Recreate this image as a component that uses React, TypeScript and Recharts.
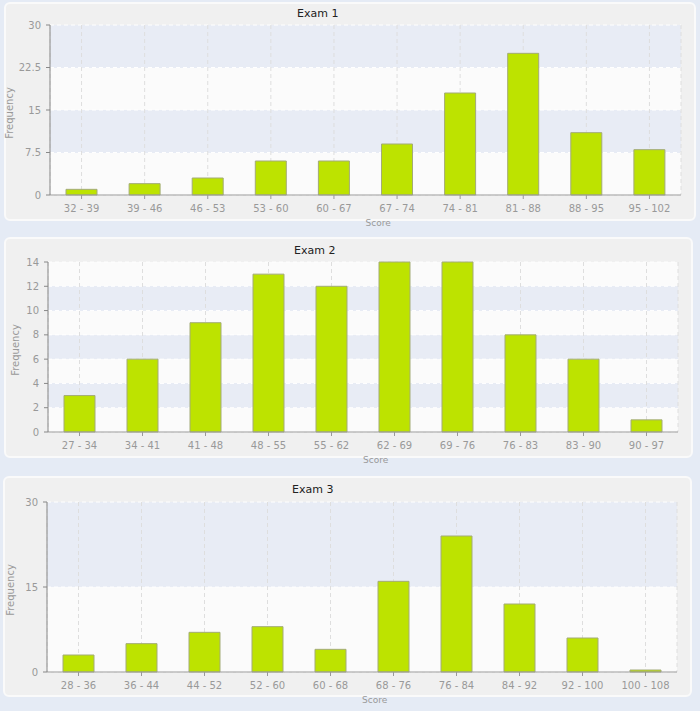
import React from 'react';
import { BarChart, Bar, XAxis, YAxis, CartesianGrid, Label } from 'recharts';

const exam1Bins = ['32 - 39', '39 - 46', '46 - 53', '53 - 60', '60 - 67', '67 - 74', '74 - 81', '81 - 88', '88 - 95', '95 - 102'];
const exam1Freq = [1, 2, 3, 6, 6, 9, 18, 25, 11, 8];
const exam1Ticks = [0, 7.5, 15, 22.5, 30];

const exam2Bins = ['27 - 34', '34 - 41', '41 - 48', '48 - 55', '55 - 62', '62 - 69', '69 - 76', '76 - 83', '83 - 90', '90 - 97'];
const exam2Freq = [3, 6, 9, 13, 12, 14, 14, 8, 6, 1];
const exam2Ticks = [0, 2, 4, 6, 8, 10, 12, 14];

const exam3Bins = ['28 - 36', '36 - 44', '44 - 52', '52 - 60', '60 - 68', '68 - 76', '76 - 84', '84 - 92', '92 - 100', '100 - 108'];
const exam3Freq = [3, 5, 7, 8, 4, 16, 24, 12, 6, 0];
const exam3Ticks = [0, 15, 30];

const FONT = '"DejaVu Sans", Verdana, sans-serif';
const BLUE = '#e8ecf5';
const WHITE = '#fbfbfb';

type ChartCfg = {
  title: string;
  bins: string[];
  freq: number[];
  ticks: number[];
  top: number;
  yWidth: number;
  right: number;
  freqX: number;
  fills: string[];
  titleX: number;
  titleY: number;
  panel: { left: number; top: number; right: number; bottom: number };
};

const charts: ChartCfg[] = [
  {
    title: 'Exam 1', bins: exam1Bins, freq: exam1Freq, ticks: exam1Ticks,
    top: 0, yWidth: 50, right: 19, freqX: 12.5, fills: [BLUE, WHITE], titleX: 297, titleY: 17,
    panel: { left: 4, top: 2, right: 696, bottom: 221 },
  },
  {
    title: 'Exam 2', bins: exam2Bins, freq: exam2Freq, ticks: exam2Ticks,
    top: 237, yWidth: 48, right: 22, freqX: 19, fills: [WHITE, BLUE], titleX: 294, titleY: 254,
    panel: { left: 4, top: 237, right: 693, bottom: 458 },
  },
  {
    title: 'Exam 3', bins: exam3Bins, freq: exam3Freq, ticks: exam3Ticks,
    top: 477, yWidth: 47, right: 23, freqX: 14, fills: [BLUE, WHITE], titleX: 292, titleY: 493,
    panel: { left: 3, top: 476, right: 692, bottom: 697 },
  },
];

function ExamChart({ cfg }: { cfg: ChartCfg }) {
  const data = cfg.bins.map((b, i) => ({ bin: b, freq: cfg.freq[i] }));
  const max = cfg.ticks[cfg.ticks.length - 1];
  return (
    <div style={{ position: 'absolute', left: 0, top: cfg.top, width: 700, height: 240 }}>
      <BarChart
        width={700}
        height={240}
        data={data}
        margin={{ top: 25, right: cfg.right, bottom: 15, left: 0 }}
        style={{ fontFamily: FONT }}
      >
        <CartesianGrid
          vertical={false}
          horizontal={true}
          stroke="#ffffff"
          strokeDasharray="4 3"
          horizontalFill={cfg.fills}
          fillOpacity={1}
        />
        <CartesianGrid horizontal={false} vertical={true} stroke="#dedede" strokeDasharray="4 3" />
        <XAxis
          dataKey="bin"
          interval={0}
          height={30}
          tickSize={4}
          tickMargin={6}
          stroke="#999"
          tick={{ fill: '#999', fontSize: 10, fontFamily: FONT }}
          tickLine={{ stroke: '#999' }}
          axisLine={{ stroke: '#999' }}
        >
          <Label
            content={(props: any) => {
              const vb = props.viewBox || {};
              return (
                <text
                  x={vb.x + vb.width / 2}
                  y={vb.y + 31}
                  textAnchor="start"
                  fill="#999"
                  fontSize={9}
                  fontFamily={FONT}
                >
                  Score
                </text>
              );
            }}
          />
        </XAxis>
        <YAxis
          type="number"
          domain={[0, max]}
          ticks={cfg.ticks}
          interval={0}
          width={cfg.yWidth}
          tickSize={4}
          tickMargin={5}
          tick={{ fill: '#999', fontSize: 10, fontFamily: FONT }}
          tickLine={{ stroke: '#888' }}
          axisLine={{ stroke: '#888' }}
        >
          <Label
            content={(props: any) => {
              const vb = props.viewBox || {};
              const cy = vb.y + vb.height / 2 + 3;
              return (
                <text
                  x={cfg.freqX}
                  y={cy}
                  transform={`rotate(-90, ${cfg.freqX}, ${cy})`}
                  textAnchor="middle"
                  fill="#999"
                  fontSize={10}
                  fontFamily={FONT}
                >
                  Frequency
                </text>
              );
            }}
          />
        </YAxis>
        <Bar
          dataKey="freq"
          fill="#bde300"
          stroke="#a3ab78"
          strokeWidth={1}
          barSize={31}
          minPointSize={2}
          isAnimationActive={false}
        />
      </BarChart>
    </div>
  );
}

export default function App() {
  return (
    <div
      style={{
        position: 'absolute',
        left: 0,
        top: 0,
        width: 700,
        height: 711,
        overflow: 'hidden',
        background: '#e5ebf5',
        fontFamily: FONT,
      }}
    >
      {charts.map((c) => (
        <div
          key={c.title + '-panel'}
          style={{
            position: 'absolute',
            left: c.panel.left,
            top: c.panel.top,
            width: c.panel.right - c.panel.left,
            height: c.panel.bottom - c.panel.top,
            boxSizing: 'border-box',
            background: '#f0f0f0',
            border: '2px solid #fafafa',
            borderRadius: 6,
          }}
        />
      ))}
      {charts.map((c) => (
        <ExamChart key={c.title} cfg={c} />
      ))}
      <svg
        width={700}
        height={711}
        style={{ position: 'absolute', left: 0, top: 0, pointerEvents: 'none' }}
      >
        {charts.map((c) => (
          <text key={c.title + '-t'} x={c.titleX} y={c.titleY} fontSize={11} fill="#222" fontFamily={FONT}>
            {c.title}
          </text>
        ))}
      </svg>
    </div>
  );
}
